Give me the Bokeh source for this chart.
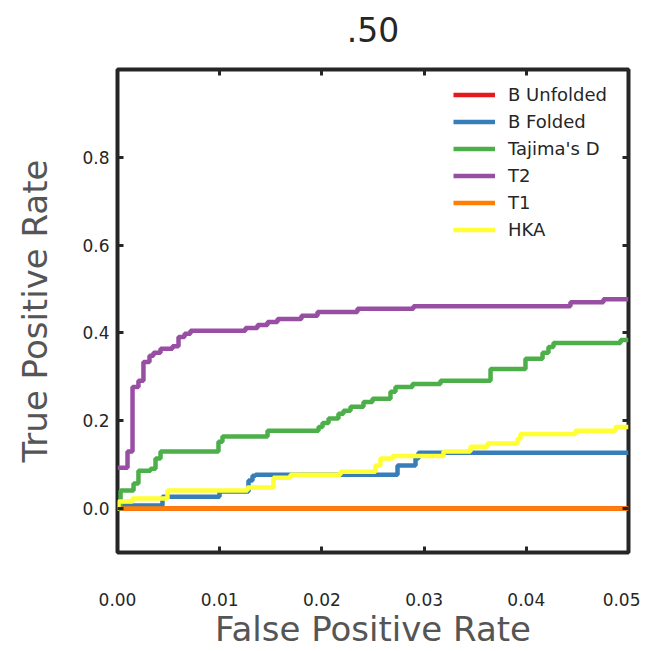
from bokeh.plotting import figure
from bokeh.models import FixedTicker, LinearAxis, Range1d, Legend, LegendItem
from bokeh.embed import file_html
from bokeh.resources import INLINE

title_text = ".50"
x_label = "False Positive Rate"
y_label = "True Positive Rate"
x_ticks = [0.0, 0.01, 0.02, 0.03, 0.04, 0.05]
x_tick_labels = ["0.00", "0.01", "0.02", "0.03", "0.04", "0.05"]
y_ticks = [0.0, 0.2, 0.4, 0.6, 0.8]
y_tick_labels = ["0.0", "0.2", "0.4", "0.6", "0.8"]

series_names = ["B Unfolded", "B Folded", "Tajima's D", "T2", "T1", "HKA"]
series_colors = ["#e41a1c", "#377eb8", "#4daf4a", "#984ea3", "#ff7f00", "#ffff33"]

b_unfolded_fpr = [0.0, 0.05]
b_unfolded_tpr = [0.0, 0.0]

b_folded_fpr = [0.0, 0.00059, 0.0044, 0.00998, 0.01282, 0.01321, 0.0135, 0.0274, 0.02916, 0.02945, 0.05]
b_folded_tpr = [0.0, 0.007, 0.027, 0.039, 0.064, 0.075, 0.077, 0.098, 0.114, 0.127, 0.127]

tajima_fpr = [0.0, 0.0003, 0.00157, 0.00205, 0.00323, 0.00372, 0.00421, 0.00988, 0.01027, 0.01468,
              0.01967, 0.02006, 0.02065, 0.02162, 0.02211, 0.0228, 0.02407, 0.02495, 0.02671, 0.0272,
              0.02886, 0.0316, 0.0365, 0.03992, 0.04159, 0.04217, 0.04266, 0.04922, 0.05]
tajima_tpr = [0.0, 0.041, 0.057, 0.086, 0.091, 0.114, 0.130, 0.152, 0.164, 0.177,
              0.186, 0.195, 0.205, 0.216, 0.223, 0.232, 0.243, 0.250, 0.266, 0.277,
              0.284, 0.291, 0.318, 0.341, 0.355, 0.368, 0.377, 0.384, 0.384]

t2_fpr = [0.0, 0.00098, 0.00147, 0.00205, 0.00254, 0.00313, 0.00352, 0.00421, 0.00538, 0.00597,
          0.00656, 0.00714, 0.01252, 0.01370, 0.01468, 0.01566, 0.01800, 0.01957, 0.02348, 0.02896,
          0.04432, 0.04755, 0.05]
t2_tpr = [0.093, 0.130, 0.277, 0.291, 0.334, 0.348, 0.355, 0.364, 0.370, 0.391,
          0.398, 0.405, 0.411, 0.418, 0.425, 0.432, 0.439, 0.448, 0.455, 0.461,
          0.470, 0.477, 0.477]

t1_fpr = [0.0003, 0.05]
t1_tpr = [0.0, 0.0]

hka_fpr = [0.0, 0.0001, 0.00147, 0.00489, 0.01272, 0.01526, 0.01693, 0.02182, 0.02524, 0.02573,
           0.02691, 0.0319, 0.03454, 0.0362, 0.03914, 0.03943, 0.04481, 0.04873, 0.05]
hka_tpr = [0.0, 0.016, 0.023, 0.041, 0.048, 0.070, 0.077, 0.084, 0.098, 0.114,
           0.120, 0.130, 0.141, 0.148, 0.159, 0.170, 0.177, 0.186, 0.186]

series_fpr = [b_unfolded_fpr, b_folded_fpr, tajima_fpr, t2_fpr, t1_fpr, hka_fpr]
series_tpr = [b_unfolded_tpr, b_folded_tpr, tajima_tpr, t2_tpr, t1_tpr, hka_tpr]

FONT = "DejaVu Sans"
DARK = "#262626"

p = figure(width=640, height=651, output_backend="svg", toolbar_location=None,
           x_range=Range1d(0.0, 0.05), y_range=Range1d(-0.1, 1.0),
           x_axis_location=None, y_axis_location=None,
           min_border_left=117, min_border_right=12, min_border_top=69, min_border_bottom=99)
p.background_fill_color = "white"
p.border_fill_color = "white"
p.grid.visible = False
p.outline_line_color = DARK
p.outline_line_width = 4


def style_axis(ax, ticks, labels, show_labels):
    ax.ticker = FixedTicker(ticks=ticks)
    ax.major_label_overrides = {t: l for t, l in zip(ticks, labels)}
    ax.axis_line_color = None
    ax.major_tick_in = 6
    ax.major_tick_out = 0
    ax.major_tick_line_width = 3
    ax.major_tick_line_color = DARK
    ax.minor_tick_line_color = None
    ax.major_label_text_font = FONT
    ax.major_label_text_color = DARK
    ax.major_label_text_font_size = "17px" if show_labels else "0px"
    ax.axis_label_text_font = FONT
    ax.axis_label_text_font_style = "normal"
    ax.axis_label_text_color = "#555555"
    ax.axis_label_text_font_size = "34px"


xb = LinearAxis(axis_label=x_label)
style_axis(xb, x_ticks, x_tick_labels, True)
xb.major_label_standoff = 40
xb.axis_label_standoff = 0
p.add_layout(xb, "below")

yl = LinearAxis(axis_label=y_label)
style_axis(yl, y_ticks, y_tick_labels, True)
yl.major_label_standoff = 8
yl.axis_label_standoff = 24
p.add_layout(yl, "left")

# top mirror axis; its axis label serves as the chart title
xt = LinearAxis(axis_label=title_text)
style_axis(xt, x_ticks, [""] * len(x_ticks), False)
xt.major_label_standoff = 0
xt.axis_label_standoff = 28
xt.axis_label_text_font_size = "33px"
xt.axis_label_text_color = DARK
p.add_layout(xt, "above")

yr = LinearAxis()
style_axis(yr, y_ticks, [""] * len(y_ticks), False)
yr.major_label_standoff = 0
p.add_layout(yr, "right")

items = []
for name, color, fx, ty in zip(series_names, series_colors, series_fpr, series_tpr):
    r = p.step(fx, ty, mode="after", line_color=color, line_width=4.5)
    items.append(LegendItem(label=name, renderers=[r]))

legend = Legend(items=items, location=(336, 309))
legend.border_line_color = None
legend.background_fill_alpha = 0
legend.padding = 0
legend.margin = 0
legend.spacing = 0
legend.glyph_width = 42
legend.glyph_height = 27
legend.label_height = 27
legend.label_standoff = 13
legend.label_text_font = FONT
legend.label_text_font_size = "18px"
legend.label_text_color = DARK
p.add_layout(legend, "center")

open("out.html", "w").write(file_html(p, INLINE))
